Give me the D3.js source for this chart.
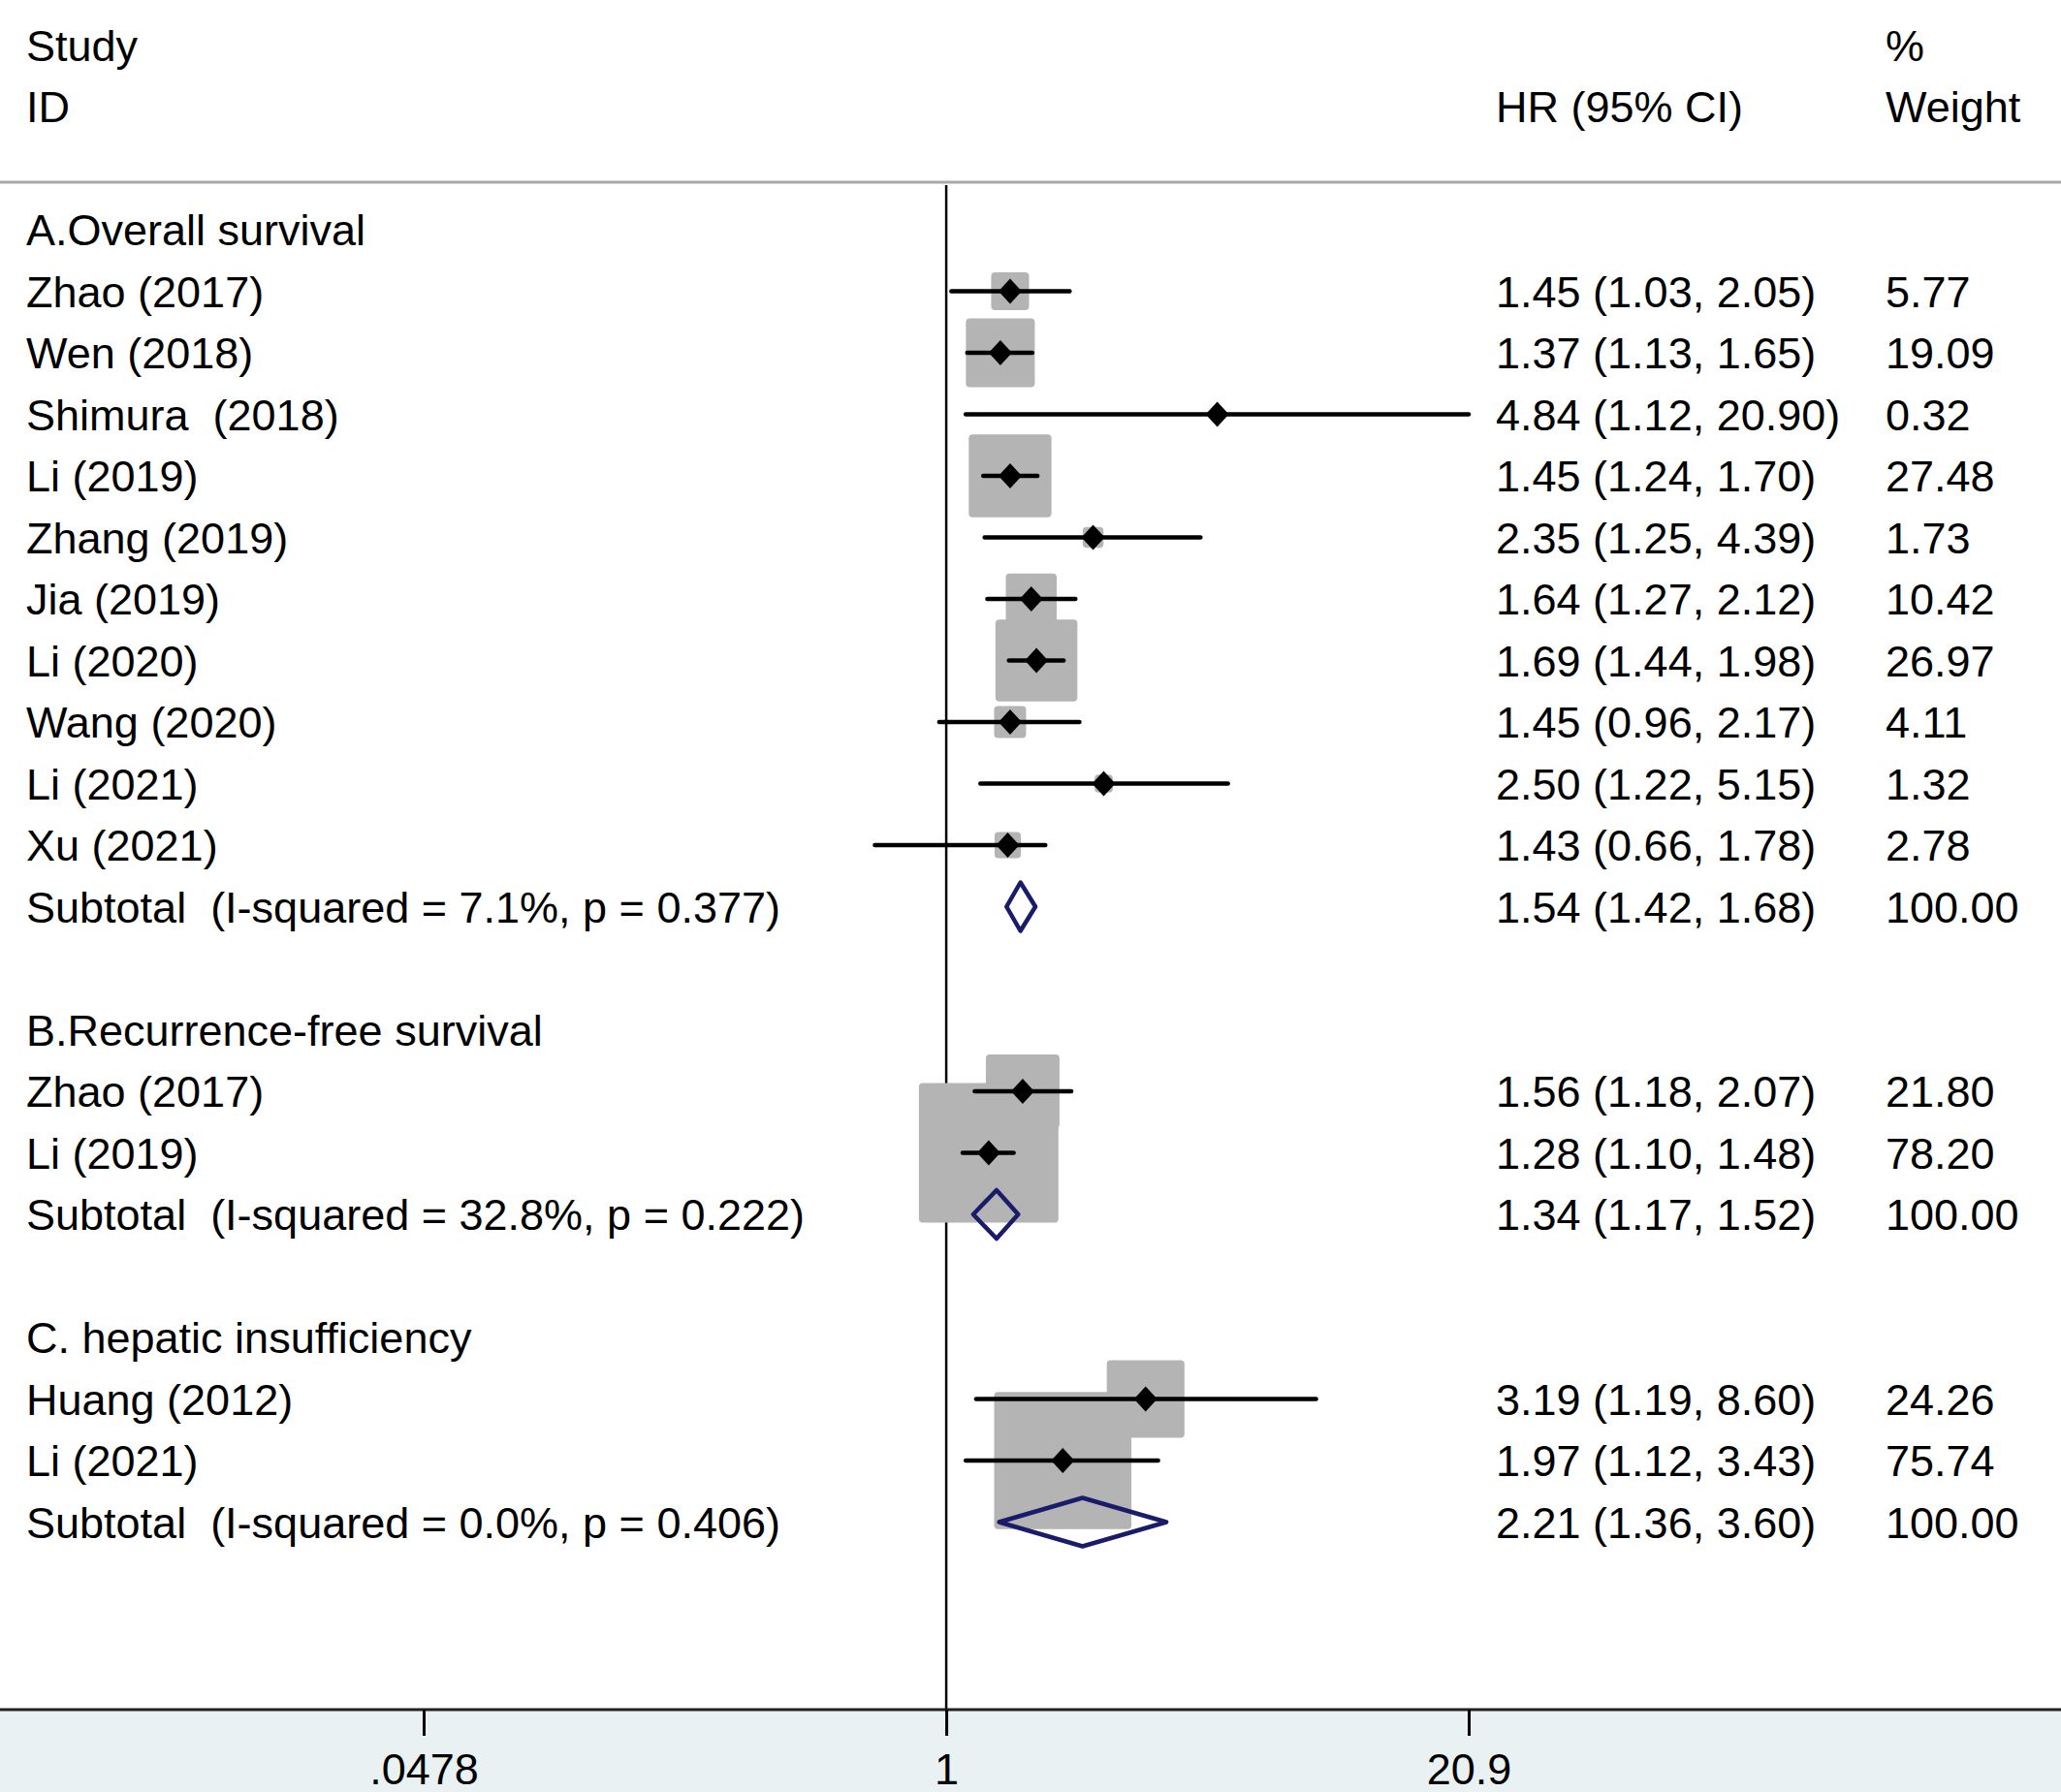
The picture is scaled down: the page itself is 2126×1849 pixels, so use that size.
<!DOCTYPE html>
<html>
<head>
<meta charset="utf-8">
<script src="https://cdn.jsdelivr.net/npm/d3@7"></script>
<style>
  body { margin: 0; background: #fff; }
  text { font-family: "Liberation Sans", Arial, sans-serif; white-space: pre; }
</style>
</head>
<body>
<div id="forest"></div>
<script>
// subgroups and the studies in them
const groupTitles = ["A.Overall survival", "B.Recurrence-free survival", "C. hepatic insufficiency"];

const studyIds = ["Zhao (2017)", "Wen (2018)", "Shimura  (2018)", "Li (2019)", "Zhang (2019)",
    "Jia (2019)", "Li (2020)", "Wang (2020)", "Li (2021)", "Xu (2021)",
    "Zhao (2017)", "Li (2019)",
    "Huang (2012)", "Li (2021)"];
const studyGroup = [0, 0, 0, 0, 0, 0, 0, 0, 0, 0, 1, 1, 2, 2];
const studyHr = [1.45, 1.37, 4.84, 1.45, 2.35, 1.64, 1.69, 1.45, 2.50, 1.43, 1.56, 1.28, 3.19, 1.97];
const studyLow = [1.03, 1.13, 1.12, 1.24, 1.25, 1.27, 1.44, 0.96, 1.22, 0.66, 1.18, 1.10, 1.19, 1.12];
const studyHigh = [2.05, 1.65, 20.90, 1.70, 4.39, 2.12, 1.98, 2.17, 5.15, 1.78, 2.07, 1.48, 8.60, 3.43];
const studyWeight = [5.77, 19.09, 0.32, 27.48, 1.73, 10.42, 26.97, 4.11, 1.32, 2.78, 21.80, 78.20, 24.26, 75.74];

const subLabels = ["Subtotal  (I-squared = 7.1%, p = 0.377)",
    "Subtotal  (I-squared = 32.8%, p = 0.222)",
    "Subtotal  (I-squared = 0.0%, p = 0.406)"];
const subHr = [1.54, 1.34, 2.21];
const subLow = [1.42, 1.17, 1.36];
const subHigh = [1.68, 1.52, 3.60];
const subWeight = [100.00, 100.00, 100.00];

const tickValues = [0.0478, 1, 20.9];
const tickLabels = [".0478", "1", "20.9"];

// build the row list: title, studies, subtotal, blank
var rows = [];
groupTitles.forEach(function (g, gi) {
    rows.push({ type: "title", label: g });
    studyIds.forEach(function (s, i) {
        if (studyGroup[i] === gi) {
            rows.push({ type: "study", label: s, hr: studyHr[i], lo: studyLow[i], hi: studyHigh[i], w: studyWeight[i] });
        }
    });
    rows.push({ type: "sub", label: subLabels[gi], hr: subHr[gi], lo: subLow[gi], hi: subHigh[gi], w: subWeight[gi] });
    rows.push({ type: "blank" });
});
rows.forEach(function (d, i) { d.row = i; });

const width = 2126, height = 1849;
const axisY = 1764;

const svg = d3.select("#forest")
    .append("svg")
    .attr("width", width)
    .attr("height", height);

const x = d3.scaleLog()
    .domain([0.0478, 20.9])
    .range([437, 1515]);

const y = d3.scaleLinear()
    .domain([0, 1])
    .range([237, 300.5]);

const size = d3.scaleSqrt()
    .domain([0, 100])
    .range([0, 162.7]);

const f2 = d3.format(".2f");

// background of the area under the axis
svg.append("rect")
    .attr("x", 0)
    .attr("y", axisY)
    .attr("width", width)
    .attr("height", height - axisY)
    .attr("fill", "#eaf1f3");

// header
svg.append("text").attr("x", 27).attr("y", y(-3) + 16).text("Study").style("font-size", "45px");
svg.append("text").attr("x", 27).attr("y", y(-2) + 16).text("ID").style("font-size", "45px");
svg.append("text").attr("x", 1543).attr("y", y(-2) + 16).text("HR (95% CI)").style("font-size", "45px");
svg.append("text").attr("x", 1945).attr("y", y(-3) + 16).text("%").style("font-size", "45px");
svg.append("text").attr("x", 1945).attr("y", y(-2) + 16).text("Weight").style("font-size", "45px");

svg.append("line")
    .attr("x1", 0)
    .attr("x2", width)
    .attr("y1", 188)
    .attr("y2", 188)
    .attr("stroke", "#a8a8a8")
    .attr("stroke-width", 3);

// null line at HR = 1
svg.append("line")
    .attr("x1", x(1))
    .attr("x2", x(1))
    .attr("y1", 191)
    .attr("y2", axisY)
    .attr("stroke", "#000")
    .attr("stroke-width", 2.5);

const studies = rows.filter(function (d) { return d.type === "study"; });
const subs = rows.filter(function (d) { return d.type === "sub"; });

// weight boxes
svg.selectAll(".box")
    .data(studies)
    .join("rect")
    .attr("class", "box")
    .attr("x", function (d) { return x(d.hr) - size(d.w) / 2; })
    .attr("y", function (d) { return y(d.row) - size(d.w) / 2; })
    .attr("width", function (d) { return size(d.w); })
    .attr("height", function (d) { return size(d.w); })
    .attr("rx", 4)
    .attr("fill", "#b4b4b4");

// confidence intervals
svg.selectAll(".ci")
    .data(studies)
    .join("line")
    .attr("class", "ci")
    .attr("x1", function (d) { return x(d.lo); })
    .attr("x2", function (d) { return x(d.hi); })
    .attr("y1", function (d) { return y(d.row); })
    .attr("y2", function (d) { return y(d.row); })
    .attr("stroke", "#000")
    .attr("stroke-width", 4.5)
    .attr("stroke-linecap", "round");

// point estimates
svg.selectAll(".pt")
    .data(studies)
    .join("path")
    .attr("class", "pt")
    .attr("d", function (d) {
        var cx = x(d.hr), cy = y(d.row);
        return "M" + (cx - 12) + "," + cy + "L" + cx + "," + (cy - 13) +
            "L" + (cx + 12) + "," + cy + "L" + cx + "," + (cy + 13) + "Z";
    })
    .attr("fill", "#000");

// pooled diamonds
svg.selectAll(".pooled")
    .data(subs)
    .join("path")
    .attr("class", "pooled")
    .attr("d", function (d) {
        var cy = y(d.row);
        return "M" + x(d.lo) + "," + cy + "L" + x(d.hr) + "," + (cy - 25) +
            "L" + x(d.hi) + "," + cy + "L" + x(d.hr) + "," + (cy + 25) + "Z";
    })
    .attr("fill", "none")
    .attr("stroke", "#1b1b6b")
    .attr("stroke-width", 4.5)
    .attr("stroke-linejoin", "round");

// left labels
svg.selectAll(".lab")
    .data(rows.filter(function (d) { return d.type !== "blank"; }))
    .join("text")
    .attr("class", "lab")
    .attr("x", 27)
    .attr("y", function (d) { return y(d.row) + 16; })
    .text(function (d) { return d.label; })
    .style("font-size", "45px");

const withVals = rows.filter(function (d) { return d.type === "study" || d.type === "sub"; });

svg.selectAll(".hrtxt")
    .data(withVals)
    .join("text")
    .attr("class", "hrtxt")
    .attr("x", 1543)
    .attr("y", function (d) { return y(d.row) + 16; })
    .text(function (d) { return f2(d.hr) + " (" + f2(d.lo) + ", " + f2(d.hi) + ")"; })
    .style("font-size", "45px");

svg.selectAll(".wtxt")
    .data(withVals)
    .join("text")
    .attr("class", "wtxt")
    .attr("x", 1945)
    .attr("y", function (d) { return y(d.row) + 16; })
    .text(function (d) { return f2(d.w); })
    .style("font-size", "45px");

// x axis
svg.append("line")
    .attr("x1", 0)
    .attr("x2", width)
    .attr("y1", axisY)
    .attr("y2", axisY)
    .attr("stroke", "#222")
    .attr("stroke-width", 3);

const axis = svg.append("g")
    .attr("transform", `translate(0, ${axisY})`)
    .call(d3.axisBottom(x)
        .tickValues(tickValues)
        .tickSize(27)
        .tickPadding(18)
        .tickFormat(function (d, i) { return tickLabels[i]; }));

axis.select(".domain").remove();
axis.selectAll(".tick line").attr("stroke", "#000").attr("stroke-width", 3);
axis.selectAll(".tick text")
    .attr("fill", "#000")
    .style("font-size", "45px")
    .style("font-family", "'Liberation Sans', Arial, sans-serif");
</script>
</body>
</html>
